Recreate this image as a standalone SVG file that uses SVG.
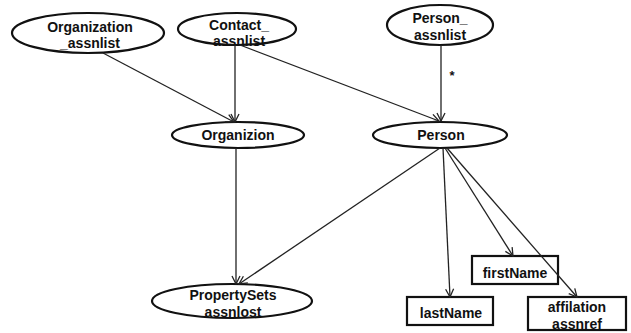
<svg xmlns="http://www.w3.org/2000/svg" width="631" height="333" viewBox="0 0 631 333">
<style>
.n{fill:#fff;stroke:#111;stroke-width:2.2}
.t{font-family:"Liberation Sans",Arial,sans-serif;font-weight:bold;font-size:14px;fill:#111;text-anchor:middle}
.e{fill:none;stroke:#222;stroke-width:1.3;marker-end:url(#a)}
</style>
<defs>
<marker id="a" markerWidth="10" markerHeight="10" refX="9" refY="5" orient="auto" markerUnits="userSpaceOnUse">
<path d="M1,1 L9,5 L1,9" fill="none" stroke="#222" stroke-width="1.3"/>
</marker>
</defs>
<rect width="631" height="333" fill="#fff"/>
<g id="organization_assnlist">
<ellipse class="n" cx="88" cy="33" rx="76" ry="20"/>
<text class="t" x="90" y="32">Organization</text>
<text class="t" x="90" y="48">_assnlist</text>
</g>
<g id="contact_assnlist">
<ellipse class="n" cx="237" cy="29" rx="59" ry="16"/>
<text class="t" x="239" y="30">Contact_</text>
<text class="t" x="239" y="46">assnlist</text>
</g>
<g id="person_assnlist">
<ellipse class="n" cx="440" cy="25" rx="53" ry="20"/>
<text class="t" x="440" y="23">Person_</text>
<text class="t" x="440" y="40">assnlist</text>
</g>
<g id="organizion">
<ellipse class="n" cx="238" cy="135" rx="66" ry="13"/>
<text class="t" x="238" y="140">Organizion</text>
</g>
<g id="person">
<ellipse class="n" cx="440" cy="135" rx="67" ry="13"/>
<text class="t" x="441" y="140">Person</text>
</g>
<g id="propertysets_assnlost">
<ellipse class="n" cx="232" cy="301" rx="80" ry="17"/>
<text class="t" x="233" y="300">PropertySets</text>
<text class="t" x="233" y="317">assnlost</text>
</g>
<g id="firstName">
<rect class="n" x="472" y="256" width="86" height="28"/>
<text class="t" x="515" y="278">firstName</text>
</g>
<g id="lastName">
<rect class="n" x="407" y="297" width="86" height="28"/>
<text class="t" x="451" y="318">lastName</text>
</g>
<g id="affilation_assnref">
<rect class="n" x="528" y="297" width="98" height="33"/>
<text class="t" x="577" y="312">affilation</text>
<text class="t" x="577" y="329">assnref</text>
</g>
<g id="connectors">
<line class="e" x1="103" y1="53" x2="234" y2="122"/>
<line class="e" x1="235" y1="45" x2="235" y2="122"/>
<line class="e" x1="240" y1="45" x2="439" y2="121"/>
<line class="e" x1="441" y1="45" x2="441" y2="121"/>
<line class="e" x1="236" y1="148" x2="236" y2="284"/>
<line class="e" x1="440" y1="148" x2="239" y2="284"/>
<line class="e" x1="443" y1="148" x2="450" y2="297"/>
<line class="e" x1="445" y1="148" x2="513" y2="256"/>
<line class="e" x1="447" y1="148" x2="577" y2="297"/>
<text class="t" x="452" y="80" style="font-size:13px">*</text>
</g>
</svg>
